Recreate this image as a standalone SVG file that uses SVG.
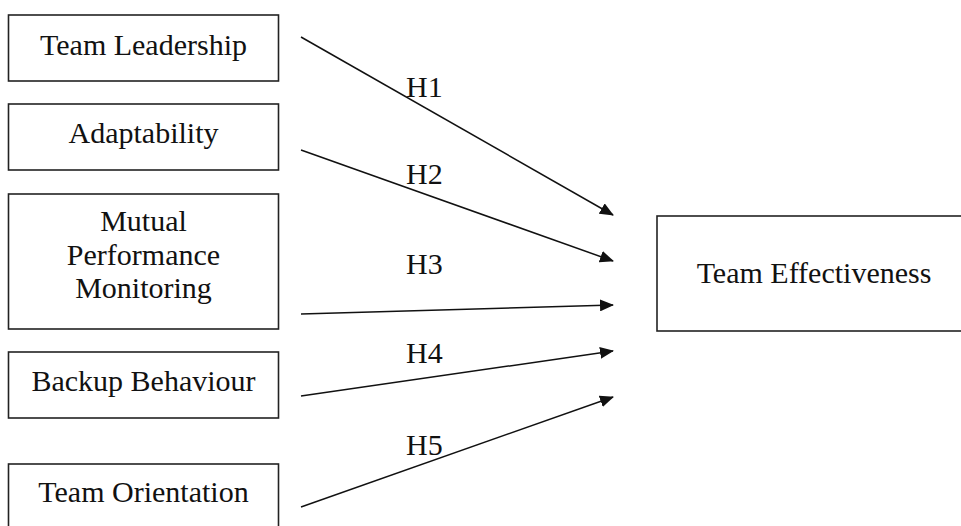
<svg xmlns="http://www.w3.org/2000/svg" width="961" height="526" viewBox="0 0 961 526">
<style>
.box{fill:#fff;stroke:#222;stroke-width:1.6}
.t{font-family:"Liberation Serif","Times New Roman",serif;font-size:30px;fill:#111;text-anchor:middle}
.lb{font-family:"Liberation Serif","Times New Roman",serif;font-size:30px;fill:#111}
.c{stroke:#111;stroke-width:1.5;fill:none;marker-end:url(#ah)}
</style>
<defs>
<marker id="ah" markerWidth="14" markerHeight="12" refX="13" refY="6" orient="auto" markerUnits="userSpaceOnUse">
<path d="M0,0 L14,6 L0,12 Z" fill="#111"/>
</marker>
</defs>
<rect width="961" height="526" fill="#fff"/>
<g id="n1"><rect class="box" x="8.5" y="15" width="270" height="66"/><text class="t" x="143.5" y="55">Team Leadership</text></g>
<g id="n2"><rect class="box" x="8.5" y="104" width="270" height="66"/><text class="t" x="143.5" y="143">Adaptability</text></g>
<g id="n3"><rect class="box" x="8.5" y="194" width="270" height="135"/><text class="t" x="143.5" y="231">Mutual</text><text class="t" x="143.5" y="265">Performance</text><text class="t" x="143.5" y="298">Monitoring</text></g>
<g id="n4"><rect class="box" x="8.5" y="352" width="270" height="66"/><text class="t" x="143.5" y="391">Backup Behaviour</text></g>
<g id="n5"><rect class="box" x="8.5" y="464" width="270" height="80"/><text class="t" x="143.5" y="502">Team Orientation</text></g>
<g id="n6"><rect class="box" x="657" y="216" width="320" height="115"/><text class="t" x="814" y="283">Team Effectiveness</text></g>
<g id="connectors">
<line class="c" x1="301" y1="37" x2="613" y2="215"/>
<line class="c" x1="301" y1="150" x2="613" y2="261"/>
<line class="c" x1="301" y1="314" x2="613" y2="305"/>
<line class="c" x1="301" y1="396" x2="613" y2="351"/>
<line class="c" x1="301" y1="507" x2="613" y2="397"/>
<text class="lb" x="406" y="97">H1</text>
<text class="lb" x="406" y="184">H2</text>
<text class="lb" x="406" y="274">H3</text>
<text class="lb" x="406" y="363">H4</text>
<text class="lb" x="406" y="455">H5</text>
</g>
</svg>
